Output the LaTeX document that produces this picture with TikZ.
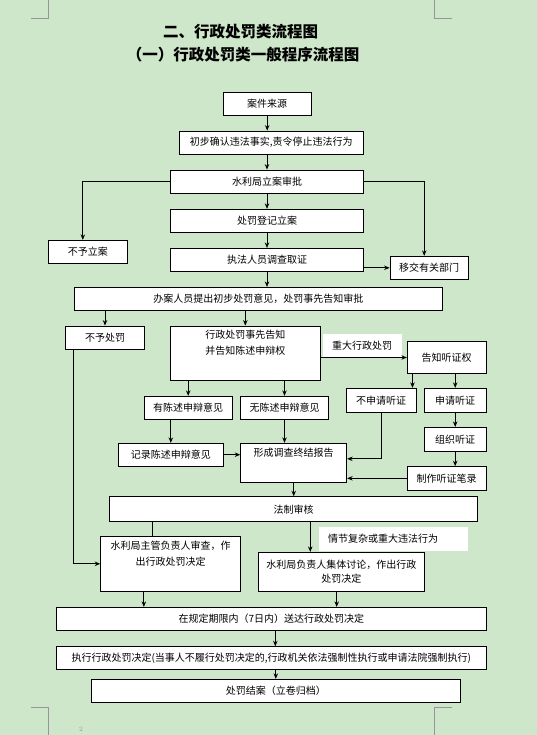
\documentclass[tikz,border=0pt]{standalone}
\usepackage{fontspec}
\usetikzlibrary{arrows.meta}
\newfontfamily\cjk{Noto Sans CJK SC}
\definecolor{pagebg}{RGB}{206,230,201}
\definecolor{markgray}{RGB}{150,150,150}
\tikzset{
  box/.style={draw=black, fill=white, line width=0.9bp, inner sep=0pt, align=center},
  tagbox/.style={fill=white, inner sep=0pt, align=center},
  arr/.style={-{Stealth[length=5.5bp,width=4.5bp]}, line width=0.9bp},
  link/.style={line width=0.9bp},
  pagemark/.style={draw=markgray, line width=0.7bp},
}

\begin{document}
\begin{tikzpicture}[x=1bp, y=-1bp, font={\cjk\fontsize{10bp}{16.5bp}\selectfont}]
  \fill[pagebg] (0,0) rectangle (537,735);
  \useasboundingbox (0,0) rectangle (537,735);
  % page corner marks
  \draw[pagemark] (31,18) -- (48,18) -- (48,0);
  \draw[pagemark] (452,18) -- (434,18) -- (434,0);
  \draw[pagemark] (31,707) -- (48,707) -- (48,735);
  \draw[pagemark] (452,707) -- (434,707) -- (434,735);
  \node[text=markgray, font={\fontsize{6.5bp}{7bp}\selectfont}, inner sep=0pt] (pageno) at (81,729.5) {2};

  % titles
  \node[font={\cjk\bfseries\fontsize{15.5bp}{18bp}\selectfont}] (title) at (240.5,31.7) {二、行政处罚类流程图};
  \node[font={\cjk\bfseries\fontsize{15.5bp}{18bp}\selectfont}] (subtitle) at (243,55) {（一）行政处罚类一般程序流程图};

  % filing stage
  \node[box, minimum width=87.7bp, minimum height=23.4bp] (src) at (267.2,104) {案件来源};
  \node[box, minimum width=184bp, minimum height=23.3bp] (confirm) at (271.3,142.7) {初步确认违法事实,责令停止违法行为};
  \node[box, minimum width=192.6bp, minimum height=23.3bp] (approve) at (267,181.7) {水利局立案审批};
  \node[box, minimum width=192.6bp, minimum height=23bp] (register) at (267,220.8) {处罚登记立案};
  \node[box, minimum width=192.6bp, minimum height=22.7bp] (investigate) at (267,259.7) {执法人员调查取证};
  \node[box, minimum width=79bp, minimum height=23bp] (noCase) at (87.8,251.8) {不予立案};
  \node[box, minimum width=78.3bp, minimum height=23bp] (transfer) at (429.2,267.8) {移交有关部门};
  \node[box, minimum width=368bp, minimum height=22.7bp] (propose) at (258.3,298.7) {办案人员提出初步处罚意见，处罚事先告知审批};

  % notice and hearing
  \node[box, minimum width=78.6bp, minimum height=23.3bp] (noPenalty) at (105,337.7) {不予处罚};
  \node[box, minimum width=149.3bp, minimum height=54.3bp] (notify) at (245.3,353.2) {行政处罚事先告知\\并告知陈述申辩权\\\strut};
  \node[tagbox, minimum width=79bp, minimum height=22.7bp] (major) at (362.2,345.3) {重大行政处罚};
  \node[box, minimum width=78.7bp, minimum height=31.6bp] (hearRight) at (446.7,357.5) {告知听证权};
  \node[box, minimum width=70bp, minimum height=24bp] (noApply) at (381,400.3) {不申请听证};
  \node[box, minimum width=61.7bp, minimum height=24bp] (apply) at (455.2,400.3) {申请听证};
  \node[box, minimum width=61.7bp, minimum height=23.7bp] (organize) at (455.2,439.2) {组织听证};
  \node[box, minimum width=78.7bp, minimum height=23.3bp] (hearRecord) at (446.7,478.3) {制作听证笔录};
  \node[box, minimum width=87.7bp, minimum height=23bp] (haveOpinion) at (188.2,407.8) {有陈述申辩意见};
  \node[box, minimum width=87.6bp, minimum height=23bp] (noOpinion) at (284.5,407.8) {无陈述申辩意见};
  \node[box, minimum width=105bp, minimum height=22.7bp] (recordOpinion) at (170.8,454.7) {记录陈述申辩意见};
  \node[box, minimum width=106bp, minimum height=39bp] (report) at (293.7,462.8) {形成调查终结报告\\\strut};

  % review and decision
  \node[box, minimum width=368.4bp, minimum height=25bp] (legal) at (293.5,509.2) {法制审核};
  \node[box, minimum width=140bp, minimum height=54.3bp] (chiefDecide) at (170.7,563.8) {水利局主管负责人审查，作\\出行政处罚决定\\\strut};
  \node[tagbox, align=left, text width=131bp, inner xsep=8.7bp, minimum height=23.4bp] (complex) at (393.5,539) {情节复杂或重大违法行为};
  \node[box, minimum width=166bp, minimum height=38.7bp, font={\cjk\fontsize{10bp}{14.7bp}\selectfont}] (groupDecide) at (341.3,571.7) {水利局负责人集体讨论，作出行政\\处罚决定};
  \node[box, minimum width=429.3bp, minimum height=22.7bp] (deliver) at (271.3,618.7) {在规定期限内（7日内）送达行政处罚决定};
  \node[box, minimum width=429.3bp, minimum height=22.6bp] (execute) at (271.3,658) {执行行政处罚决定(当事人不履行处罚决定的,行政机关依法强制性执行或申请法院强制执行)};
  \node[box, minimum width=368.3bp, minimum height=23bp] (close) at (275.8,690.8) {处罚结案（立卷归档）};

  % connectors
  \draw[arr] (src) -- (src |- confirm.north);
  \draw[arr] (approve.north |- confirm.south) -- (approve.north);
  \draw[arr] (approve.west) -| ([xshift=-5bp]noCase.north);
  \draw[arr] (approve.east) -| ([xshift=-5bp]transfer.north);
  \draw[arr] (approve) -- (register);
  \draw[arr] (register) -- (investigate);
  \draw[arr] (investigate.east |- transfer.west) -- (transfer.west);
  \draw[arr] (investigate) -- (investigate |- propose.north);
  \draw[arr] (propose.south -| noPenalty) -- (noPenalty.north);
  \draw[arr] (propose.south -| notify) -- (notify.north);
  \draw[arr] (notify.east |- hearRight) -- (hearRight.west);
  \draw[arr] ([xshift=-4bp]noApply.north east |- hearRight.south) -- ([xshift=-4bp]noApply.north east);
  \draw[arr] (apply.north |- hearRight.south) -- (apply.north);
  \draw[arr] (apply) -- (organize);
  \draw[arr] (organize) -- (hearRecord.north -| organize);
  \draw[arr] (haveOpinion.north |- notify.south) -- (haveOpinion.north);
  \draw[arr] (noOpinion.north |- notify.south) -- (noOpinion.north);
  \draw[arr] (recordOpinion.north |- haveOpinion.south) -- (recordOpinion.north);
  \draw[arr] (noOpinion.south) -- (noOpinion.south |- report.north);
  \draw[arr] (recordOpinion.east) -- (recordOpinion.east -| report.west);
  \draw[arr] (noApply.south) |- ([yshift=4bp]report.east);
  \draw[arr] (hearRecord.west) -- (hearRecord.west -| report.east);
  \draw[arr] ([xshift=8.3bp]noPenalty.south west) |- (chiefDecide.west);
  \draw[arr] (report) -- (report |- legal.north);
  \draw[link] ([xshift=44bp]legal.south west) -- ([xshift=44bp]legal.south west |- chiefDecide.north);
  \draw[arr] ([xshift=52.4bp]groupDecide.north west |- legal.south) -- ([xshift=52.4bp]groupDecide.north west);
  \draw[arr] ([xshift=43.6bp]chiefDecide.south west) -- ([xshift=43.6bp]chiefDecide.south west |- deliver.north);
  \draw[arr] ([xshift=-4.6bp]groupDecide.south) -- ([xshift=-4.6bp]groupDecide.south |- deliver.north);
  \draw[arr] ([xshift=4bp]deliver.south) -- ([xshift=4bp]deliver.south |- execute.north);
  \draw[arr] (close.north |- execute.south) -- (close.north);
\end{tikzpicture}
\end{document}
